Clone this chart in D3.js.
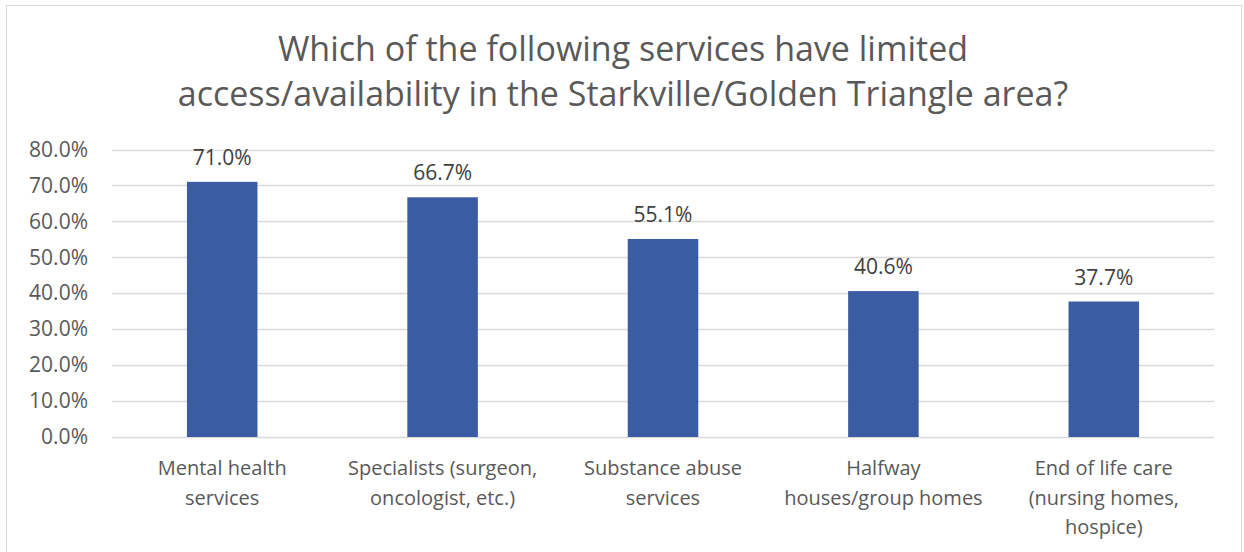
<!DOCTYPE html>
<html>
<head>
<meta charset="utf-8">
<script src="https://cdn.jsdelivr.net/npm/d3@7"></script>
<style>
  html, body { margin: 0; padding: 0; background: #fff; }
  svg { display: block; font-family: "Open Sans", "Noto Sans", sans-serif; }
</style>
</head>
<body>
<svg id="chart" width="1244" height="552"></svg>
<script>
// Survey responses: share of respondents naming each service as limited
const categories = [
  ["Mental health", "services"],
  ["Specialists (surgeon,", "oncologist, etc.)"],
  ["Substance abuse", "services"],
  ["Halfway", "houses/group homes"],
  ["End of life care", "(nursing homes,", "hospice)"]
];
const values = [0.710, 0.667, 0.551, 0.406, 0.377];
const yTicks = [0, 0.1, 0.2, 0.3, 0.4, 0.5, 0.6, 0.7, 0.8];
const titleLines = [
  "Which of the following services have limited",
  "access/availability in the Starkville/Golden Triangle area?"
];

const svg = d3.select("#chart");
const plot = { left: 112, right: 1214, top: 149.5, bottom: 437 };

// chart frame
svg.append("rect")
  .attr("x", 6.5).attr("y", 5.5)
  .attr("width", 1235).attr("height", 560)
  .attr("fill", "#fff").attr("stroke", "#d9d9d9").attr("stroke-width", 1);

// title
svg.append("g").selectAll("text")
  .data(titleLines)
  .join("text")
  .attr("x", 623)
  .attr("y", (d, i) => 61 + i * 45)
  .attr("text-anchor", "middle")
  .attr("font-size", 34)
  .attr("fill", "#595959")
  .text(d => d);

const x = d3.scaleBand()
  .domain(d3.range(categories.length))
  .range([plot.left, plot.right])
  .paddingInner(0.68)
  .paddingOuter(0.34);

const y = d3.scaleLinear()
  .domain([0, 0.8])
  .range([plot.bottom, plot.top]);

// horizontal gridlines
svg.append("g").selectAll("line")
  .data(yTicks)
  .join("line")
  .attr("x1", plot.left).attr("x2", plot.right)
  .attr("y1", d => Math.round(y(d)) + 0.5)
  .attr("y2", d => Math.round(y(d)) + 0.5)
  .attr("stroke", "#d9d9d9")
  .attr("stroke-width", 1.5);

// y axis labels
const yAxis = d3.axisLeft(y).tickValues(yTicks).tickFormat(d3.format(".1%")).tickSize(0).tickPadding(0);
const yG = svg.append("g").attr("transform", `translate(${plot.left - 24},0)`).call(yAxis);
yG.select(".domain").remove();
yG.selectAll("text")
  .attr("font-size", 21)
  .attr("font-family", "\"Open Sans\", sans-serif")
  .attr("fill", "#595959");

// bars
svg.append("g").selectAll("rect")
  .data(values)
  .join("rect")
  .attr("x", (d, i) => x(i))
  .attr("width", x.bandwidth())
  .attr("y", d => y(d))
  .attr("height", d => y(0) - y(d))
  .attr("fill", "#3b5ca3");

// value labels
svg.append("g").selectAll("text")
  .data(values)
  .join("text")
  .attr("x", (d, i) => x(i) + x.bandwidth() / 2)
  .attr("y", d => y(d) - 17)
  .attr("text-anchor", "middle")
  .attr("font-size", 21)
  .attr("fill", "#404040")
  .text(d => d3.format(".1%")(d));

// category labels
const cat = svg.append("g").selectAll("text")
  .data(categories)
  .join("text")
  .attr("text-anchor", "middle")
  .attr("font-size", 20)
  .attr("fill", "#595959");
cat.each(function(lines, i) {
  d3.select(this).selectAll("tspan")
    .data(lines)
    .join("tspan")
    .attr("x", x(i) + x.bandwidth() / 2)
    .attr("y", (d, j) => 475 + j * 29.5)
    .text(d => d);
});
</script>
</body>
</html>
